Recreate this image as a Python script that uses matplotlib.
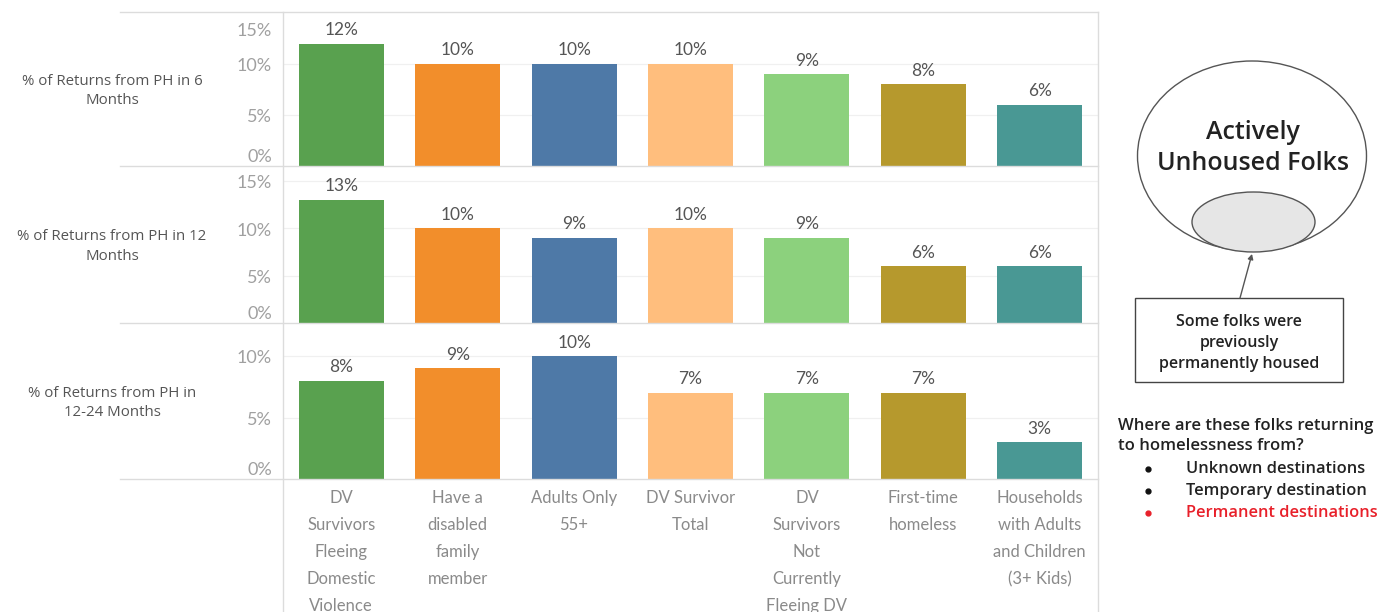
import matplotlib
matplotlib.use("Agg")
import matplotlib.pyplot as plt
from matplotlib.patches import Ellipse, Rectangle, FancyArrowPatch
from matplotlib.lines import Line2D

# ---- data -------------------------------------------------------------
categories = [
    "DV\nSurvivors\nFleeing\nDomestic\nViolence",
    "Have a\ndisabled\nfamily\nmember",
    "Adults Only\n55+",
    "DV Survivor\nTotal",
    "DV\nSurvivors\nNot\nCurrently\nFleeing DV",
    "First-time\nhomeless",
    "Households\nwith Adults\nand Children\n(3+ Kids)",
]
bar_colors = ["#59A14F", "#F28E2B", "#4E79A7", "#FFBE7D", "#8CD17D", "#B6992D", "#499894"]

row_titles = [
    "% of Returns from PH in 6\nMonths",
    "% of Returns from PH in 12\nMonths",
    "% of Returns from PH in\n12-24 Months",
]
returns_6m = [12, 10, 10, 10, 9, 8, 6]
returns_12m = [13, 10, 9, 10, 9, 6, 6]
returns_12_24m = [8, 9, 10, 7, 7, 7, 3]
series = [returns_6m, returns_12m, returns_12_24m]
y_limits = [15.1, 16.6, 12.7]
y_ticks = [[0, 5, 10, 15], [0, 5, 10, 15], [0, 5, 10]]

bubble_title = "Actively\nUnhoused Folks"
box_text = "Some folks were\npreviously\npermanently housed"
question = "Where are these folks returning\nto homelessness from?"
destinations = ["Unknown destinations", "Temporary destination", "Permanent destinations"]
destination_colors = ["#111111", "#111111", "#E8202A"]

# ---- figure -----------------------------------------------------------
W, H = 1382, 612
fig = plt.figure(figsize=(W / 100, H / 100), dpi=100)
fig.patch.set_facecolor("white")
FONT = "Lato"
plt.rcParams["font.family"] = [FONT, "DejaVu Sans"]


def fx(x):
    return x / W


def fy(y):
    return 1 - y / H


def axes_px(x0, y0, x1, y1, **kw):
    return fig.add_axes([fx(x0), fy(y1), (x1 - x0) / W, (y1 - y0) / H], **kw)


line_col = "#dcdcdc"
panel_rows = [(12, 166), (166, 323), (323, 479)]
left, right = 283, 1098
axes = []
for i, ((top, bottom), vals) in enumerate(zip(panel_rows, series)):
    ax = axes_px(left, top, right, bottom)
    axes.append(ax)
    xs = range(len(vals))
    for t in y_ticks[i][1:]:
        if t < y_limits[i] - 0.5:
            ax.axhline(t, color="#f0f0f0", lw=0.9, zorder=0)
    ax.bar(xs, vals, width=0.73, color=bar_colors, zorder=2)
    for x, v in zip(xs, vals):
        ax.annotate(f"{v}%", (x, v), xytext=(0, 4), textcoords="offset points",
                    ha="center", va="bottom", fontsize=12.5, color="#555555")
    ax.set_xlim(-0.5, len(vals) - 0.5)
    ax.set_ylim(0, y_limits[i])
    for s in ax.spines.values():
        s.set_visible(False)
    ax.set_yticks([])
    ax.tick_params(axis="x", length=0)
    if i < 2:
        ax.set_xticks([])
    else:
        ax.set_xticks(list(xs))
        ax.set_xticklabels(categories, fontsize=12, color="#8a8a8a", linespacing=1.85)
        ax.tick_params(axis="x", pad=8)
    # value-axis labels
    for t in y_ticks[i]:
        dy, va = 0, "center"
        if t == 0:
            dy, va = 2, "bottom"
        elif t >= y_limits[i] - 0.2:
            dy, va = -6, "top"
        ax.annotate(f"{t}%", (0, t), xycoords=("axes fraction", "data"),
                    xytext=(-8, dy - 1.5), textcoords="offset points",
                    ha="right", va=va, fontsize=13, color="#a0a0a0")
    # row header
    fig.text(fx(112), fy((top + bottom) / 2 + 2), row_titles[i], ha="center", va="center",
             fontsize=10.8, fontfamily="Open Sans", color="#555555", fontweight="medium",
             linespacing=1.45)

# table rules
for y in [12, 166, 323, 479]:
    fig.add_artist(Line2D([fx(120), fx(right)], [fy(y), fy(y)], color=line_col, lw=1.0))
for x in [left, right]:
    fig.add_artist(Line2D([fx(x), fx(x)], [fy(12), fy(612)], color=line_col, lw=1.0))

# ---- side diagram -----------------------------------------------------
side = axes_px(1100, 0, 1382, 612)
side.set_xlim(1100, 1382)
side.set_ylim(612, 0)
side.axis("off")

side.add_patch(Ellipse((1252, 156), 229, 190, fill=False, ec="#555555", lw=1.0))
side.add_patch(Ellipse((1253.5, 222), 123, 60, fc="#e6e6e6", ec="#555555", lw=1.0))
side.text(1253, 148, bubble_title, ha="center", va="center", fontsize=18,
          fontfamily="Open Sans", fontweight="semibold", color="#222222", linespacing=1.3)

side.add_patch(Rectangle((1135, 298), 208, 84, fill=False, ec="#444444", lw=1.0))
side.text(1239, 343, box_text, ha="center", va="center", fontsize=11.5,
          fontfamily="Open Sans", fontweight="semibold", color="#222222", linespacing=1.4)
side.add_patch(FancyArrowPatch((1240, 298), (1252, 254), arrowstyle="-|>,head_length=3,head_width=1.6",
                               color="#555555", lw=1.0, shrinkA=0, shrinkB=0))

side.text(1118, 436, question, ha="left", va="center", fontsize=12,
          fontfamily="Open Sans", fontweight="semibold", color="#222222", linespacing=1.4)
for k, (label, col) in enumerate(zip(destinations, destination_colors)):
    y = 469 + 22 * k
    side.plot(1148, y, "o", ms=3.5, color=col)
    side.text(1186, y, label, ha="left", va="center", fontsize=11.8,
              fontfamily="Open Sans", fontweight="semibold", color=col if k == 2 else "#222222")

fig.savefig("out.png", dpi=100, facecolor="white")
